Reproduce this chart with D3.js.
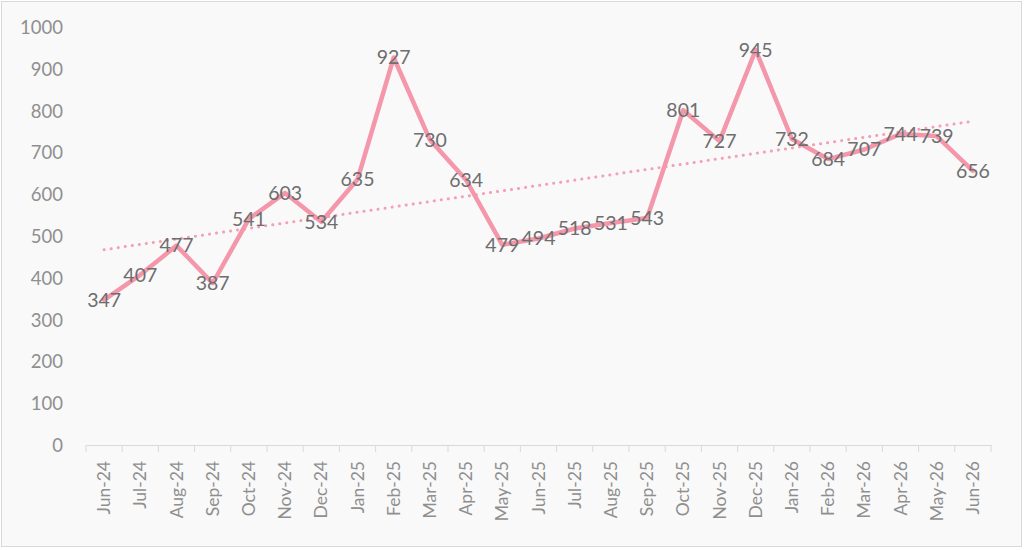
<!DOCTYPE html>
<html>
<head>
<meta charset="utf-8">
<script src="https://cdn.jsdelivr.net/npm/d3@7"></script>
<style>
html,body{margin:0;padding:0;background:#fff;}
svg{display:block;}
</style>
</head>
<body>
<svg id="chart" width="1024" height="550"></svg>
<script>
const categories = ["Jun-24","Jul-24","Aug-24","Sep-24","Oct-24","Nov-24","Dec-24","Jan-25","Feb-25","Mar-25","Apr-25","May-25","Jun-25","Jul-25","Aug-25","Sep-25","Oct-25","Nov-25","Dec-25","Jan-26","Feb-26","Mar-26","Apr-26","May-26","Jun-26"];
const values = [347,407,477,387,541,603,534,635,927,730,634,479,494,518,531,543,801,727,945,732,684,707,744,739,656];
const yTicks = [0,100,200,300,400,500,600,700,800,900,1000];

const svg = d3.select("#chart");
const W = 1024, H = 550;
const margin = {left:86, right:33, top:27, bottom:105};

svg.append("rect").attr("x",1.5).attr("y",1.5).attr("width",W-4).attr("height",H-5)
  .attr("fill","#f9f9f9").attr("stroke","#d9d9d9").attr("stroke-width",1);

const x = d3.scaleBand().domain(categories).range([margin.left, W-margin.right]).padding(0);
const y = d3.scaleLinear().domain([0,1000]).range([H-margin.bottom, margin.top]);

// y axis labels
const yAxis = d3.axisLeft(y).tickValues(yTicks).tickSize(0).tickPadding(0).tickFormat(d3.format("d"));
const gy = svg.append("g").attr("transform",`translate(63,0)`).call(yAxis);
gy.select(".domain").remove();
gy.selectAll("text").attr("font-family","Lato, 'Open Sans', sans-serif").attr("font-size",18.5)
  .attr("fill","#8f8f8f").attr("dy","0.35em");

// x axis
const xAxis = d3.axisBottom(x).tickSize(0);
const gx = svg.append("g").attr("transform",`translate(0,${y(0)})`).call(xAxis);
gx.select(".domain").attr("stroke","#d9d9d9").attr("stroke-width",1);
gx.selectAll(".tick line").remove();
gx.selectAll("text")
  .attr("font-family","Lato, 'Open Sans', sans-serif").attr("font-size",17.5).attr("fill","#8f8f8f")
  .attr("transform","rotate(-90)").attr("text-anchor","end")
  .attr("x",-16).attr("y",0).attr("dy","0.35em");
// category boundary tick marks
const bounds = categories.map(c => x(c)).concat([x(categories[categories.length-1]) + x.bandwidth()]);
svg.append("g").selectAll("line").data(bounds).join("line")
  .attr("x1",d=>d).attr("x2",d=>d).attr("y1",y(0)).attr("y2",y(0)+7)
  .attr("stroke","#d9d9d9").attr("stroke-width",1);

const cx = d => x(d) + x.bandwidth()/2;

// trendline (linear regression over data)
const n = values.length;
const idx = d3.range(n);
const mx = d3.mean(idx), my = d3.mean(values);
const slope = d3.sum(idx, i => (i-mx)*(values[i]-my)) / d3.sum(idx, i => (i-mx)*(i-mx));
const intercept = my - slope*mx;
svg.append("line")
  .attr("x1", cx(categories[0])).attr("y1", y(intercept))
  .attr("x2", cx(categories[n-1])).attr("y2", y(intercept + slope*(n-1)))
  .attr("stroke","#f4a0b5").attr("stroke-width",3).attr("stroke-dasharray","0.1 7")
  .attr("stroke-linecap","round");

// line
const line = d3.line().x((d,i)=>cx(categories[i])).y(d=>y(d));
svg.append("path").datum(values).attr("d",line)
  .attr("fill","none").attr("stroke","#f497ab").attr("stroke-width",4.5)
  .attr("stroke-linejoin","round").attr("stroke-linecap","round");

// data labels centered on points
svg.append("g").selectAll("text").data(values).join("text")
  .attr("x",(d,i)=>cx(categories[i])).attr("y",d=>y(d))
  .attr("dy","0.35em").attr("text-anchor","middle")
  .attr("font-family","Lato, 'Open Sans', sans-serif").attr("font-size",19.5)
  .attr("fill","#6e6e6e").text(d=>d);
</script>
</body>
</html>
